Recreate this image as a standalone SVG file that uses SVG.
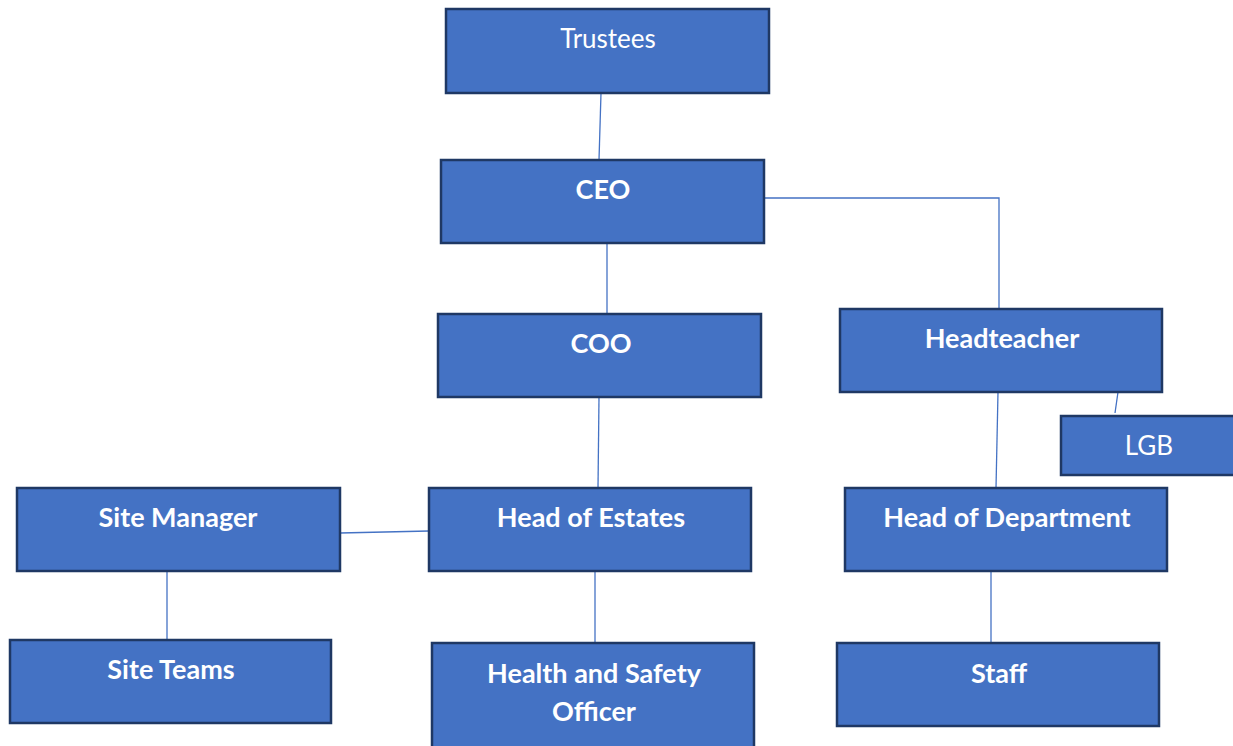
<svg xmlns="http://www.w3.org/2000/svg" width="1233" height="746" viewBox="0 0 1233 746">
<style>
.box{fill:#4472C4;stroke:#1F3864;stroke-width:2.5}
.t{fill:#fff;font-family:Lato,"Open Sans",sans-serif;font-size:26px;text-anchor:middle}
.b{font-weight:bold;font-size:27px}
.c{stroke:#4472C4;stroke-width:1.3;fill:none}
</style>
<rect width="1233" height="746" fill="#fff"/>
<g id="connectors">
<line class="c" x1="601" y1="93" x2="599" y2="160"/>
<line class="c" x1="607" y1="243" x2="607" y2="314"/>
<polyline class="c" points="764,198 999,198 999,309"/>
<line class="c" x1="599" y1="397" x2="598" y2="488"/>
<line class="c" x1="340" y1="533" x2="429" y2="531"/>
<line class="c" x1="167" y1="571" x2="167" y2="640"/>
<line class="c" x1="595" y1="571" x2="595" y2="643"/>
<line class="c" x1="998" y1="392" x2="996" y2="488"/>
<line class="c" x1="1118" y1="392" x2="1115" y2="413"/>
<line class="c" x1="991" y1="571" x2="991" y2="643"/>
</g>
<g id="trustees"><rect class="box" x="446" y="9" width="323" height="84"/><text class="t" x="608" y="48">Trustees</text></g>
<g id="ceo"><rect class="box" x="441" y="160" width="323" height="83"/><text class="t b" x="603" y="199">CEO</text></g>
<g id="coo"><rect class="box" x="438" y="314" width="323" height="83"/><text class="t b" x="601" y="353">COO</text></g>
<g id="headteacher"><rect class="box" x="840" y="309" width="322" height="83"/><text class="t b" x="1002" y="348">Headteacher</text></g>
<g id="lgb"><rect class="box" x="1061" y="416" width="180" height="59"/><text class="t" x="1149" y="455">LGB</text></g>
<g id="site-manager"><rect class="box" x="17" y="488" width="323" height="83"/><text class="t b" x="178" y="527">Site Manager</text></g>
<g id="head-of-estates"><rect class="box" x="429" y="488" width="322" height="83"/><text class="t b" x="591" y="527">Head of Estates</text></g>
<g id="head-of-department"><rect class="box" x="845" y="488" width="322" height="83"/><text class="t b" x="1007" y="527">Head of Department</text></g>
<g id="site-teams"><rect class="box" x="10" y="640" width="321" height="83"/><text class="t b" x="171" y="679">Site Teams</text></g>
<g id="health-and-safety"><rect class="box" x="432" y="643" width="322" height="110"/><text class="t b" x="594" y="683">Health  and Safety</text><text class="t b" x="594" y="721">Officer</text></g>
<g id="staff"><rect class="box" x="837" y="643" width="322" height="83"/><text class="t b" x="999" y="683">Staff</text></g>
</svg>
